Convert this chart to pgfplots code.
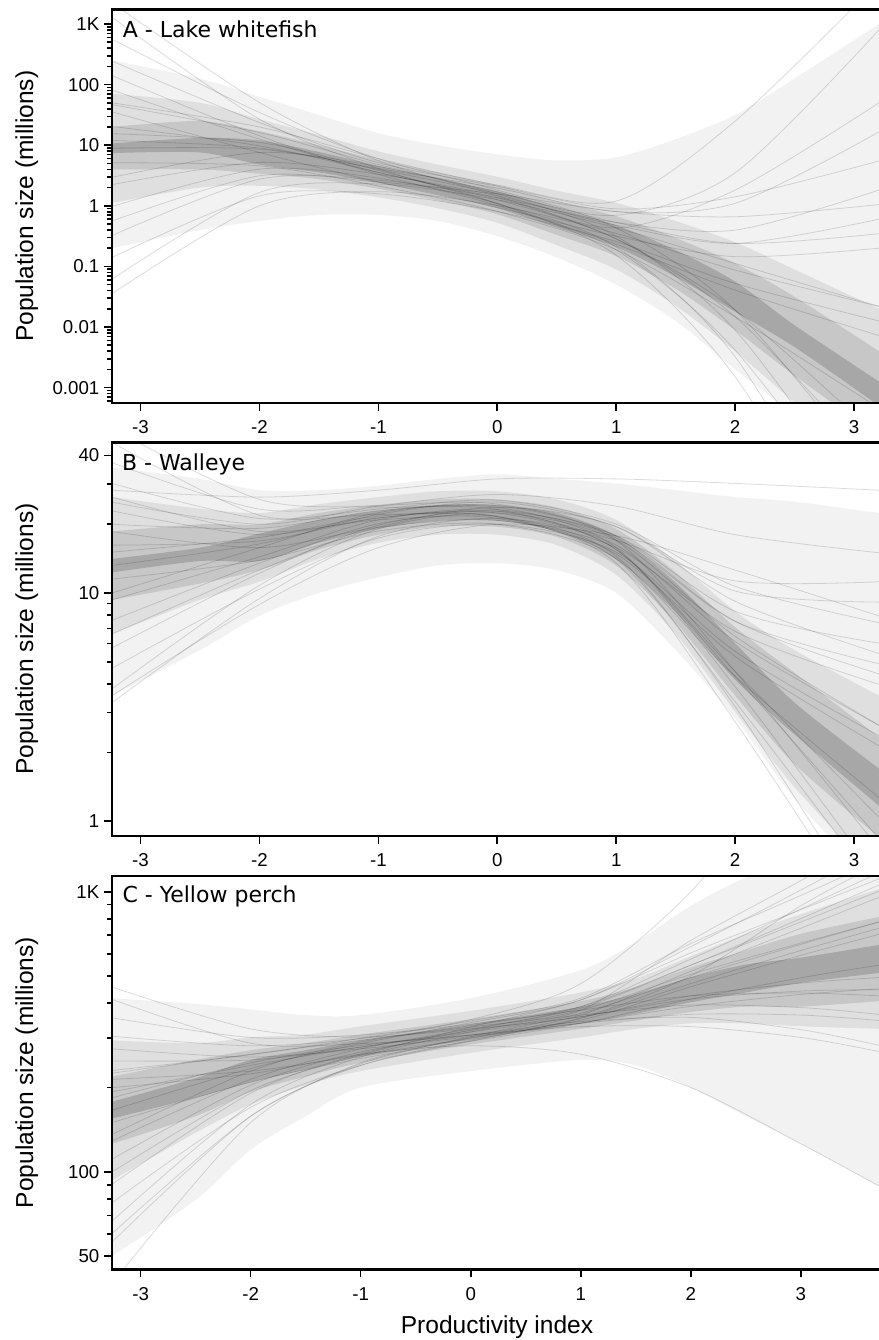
\documentclass[border=0pt]{standalone}
\usepackage{pgfplots}
\pgfplotsset{compat=1.18}
\usepgfplotslibrary{fillbetween}
\usepackage{pgfplotstable}
\usepackage{fontspec}
\setmainfont{Liberation Sans}
\newfontfamily\titlefont{DejaVu Sans}

\pgfplotsset{
  spag/.style={black, draw opacity=0.14, line width=0.6pt, smooth, forget plot},
  edge/.style={draw=none, smooth, forget plot},
  shade/.style={fill=black, fill opacity=#1, draw=none, forget plot},
}

\begin{document}
% density of the curves: four nested envelopes, u1/l1 widest ... u4/l4 core
\pgfplotstableread{
x u1 l1 u2 l2 u3 l3 u4 l4
-3.24 251 0.2 70.8 1.12 20.0 3.98 10.7 7.41
-2.5 126 0.398 50.1 2.0 25.1 3.98 13.2 7.59
-2 63.1 0.562 26.9 2.14 17.0 3.39 12.0 4.79
-1.5 31.6 0.708 14.8 1.86 10.0 2.75 7.76 3.55
-1 15.8 0.708 7.94 1.38 5.75 1.91 4.57 2.40
-0.5 10 0.562 4.79 0.912 3.55 1.23 2.82 1.55
0 7.08 0.316 3.02 0.525 2.19 0.724 1.74 0.912
0.5 5.62 0.141 1.78 0.224 1.20 0.331 0.912 0.437
1 6.31 0.0501 1.12 0.0891 0.676 0.148 0.479 0.209
1.5 12.6 0.0126 0.562 0.0224 0.295 0.0427 0.186 0.0676
2 31.6 0.002 0.251 0.00398 0.112 0.00891 0.0562 0.0178
2.5 126 0.000316 0.0891 0.000562 0.0316 0.00158 0.0107 0.00468
3.21 1000 1e-5 0.02 3.16e-5 0.00398 0.000158 0.00126 0.000501
}\bandA
\pgfplotstableread{
x u1 l1 u2 l2 u3 l3 u4 l4
-3.24 35.5 3.55 26.3 6.61 18.6 9.33 14.1 12.3
-2.5 31.6 5.62 23.4 9.33 20.0 11.0 15.8 13.8
-2 28.2 7.94 22.4 11.2 20.0 12.6 18.2 13.8
-1.5 28.2 10 24.5 14.1 22.4 15.5 20.9 16.6
-1 29.5 11.7 26.3 16.6 24.3 18.0 22.9 19.1
-0.5 31.6 13.2 27.9 18.0 25.7 19.5 24.3 20.7
0 33.1 13.5 27.9 18.0 25.7 19.5 24.3 20.7
0.5 31.6 12.6 25.7 16.2 23.7 17.6 22.4 18.6
1 30.2 10 20.9 12.0 19.1 13.2 17.8 14.1
1.5 28.2 5.62 13.8 6.61 12.3 7.41 11.1 8.22
2 26.3 2.82 8.32 3.02 7.08 3.55 6.03 4.17
2.5 25.1 1.26 5.62 1.41 4.47 1.78 3.31 2.40
3.21 22.4 0.5 3.55 0.562 2.34 0.851 1.70 1.17
}\bandB
\pgfplotstableread{
x u1 l1 u2 l2 u3 l3 u4 l4
-3.26 417 50.1 295 93.3 219 126 178 155
-2.5 398 79.4 288 138 251 158 216 184
-2 380 120 302 174 272 193 251 209
-1.5 363 158 309 204 288 219 272 232
-1 363 200 331 229 309 245 295 257
0 417 229 376 266 351 285 337 296
1 525 251 437 302 407 324 389 339
1.5 661 240 490 324 457 347 432 367
2 891 200 589 339 537 372 495 403
2.5 1122 158 708 339 617 389 550 437
3 1259 126 832 331 708 389 582 473
3.71 1259 89.1 1023 324 813 407 646 513
}\bandC

\begin{tikzpicture}

% ---------- A ----------
\begin{axis}[ymode=log, scale only axis, width=575.25pt, height=295pt,
  at={(84pt,-7.1pt)}, anchor=north west,
  axis line style={draw=none}, clip mode=individual,
  tick align=outside, xtick pos=left, ytick pos=left,
  major tick length=6pt, minor tick length=3.5pt,
  tick style={black, line width=1.2pt},
  tick label style={font=\fontsize{14}{16}\selectfont},
  xticklabel style={yshift=-4pt},
  xtick={-3,-2,-1,0,1,2,3}, xticklabels={-3,-2,-1,0,1,2,3},
  xmin=-3.24, xmax=3.21, ymin=0.000562, ymax=1738,
  ytick={0.001,0.01,0.1,1,10,100,1000},
  yticklabels={0.001,0.01,0.1,1,10,100,1K},
  minor ytick={0.0006,0.0007,0.0008,0.0009,0.002,0.003,0.004,0.005,0.006,0.007,0.008,0.009,0.02,0.03,0.04,0.05,0.06,0.07,0.08,0.09,0.2,0.3,0.4,0.5,0.6,0.7,0.8,0.9,2,3,4,5,6,7,8,9,20,30,40,50,60,70,80,90,200,300,400,500,600,700,800,900}]
\addplot[edge, name path=au1] table[x=x,y=u1]{\bandA};
\addplot[edge, name path=al1] table[x=x,y=l1]{\bandA};
\addplot[edge, name path=au2] table[x=x,y=u2]{\bandA};
\addplot[edge, name path=al2] table[x=x,y=l2]{\bandA};
\addplot[edge, name path=au3] table[x=x,y=u3]{\bandA};
\addplot[edge, name path=al3] table[x=x,y=l3]{\bandA};
\addplot[edge, name path=au4] table[x=x,y=u4]{\bandA};
\addplot[edge, name path=al4] table[x=x,y=l4]{\bandA};
\addplot[shade=0.05] fill between[of=au1 and al1];
\addplot[shade=0.08] fill between[of=au2 and al2];
\addplot[shade=0.11] fill between[of=au3 and al3];
\addplot[shade=0.16] fill between[of=au4 and al4];
\addplot[spag] coordinates {(-3.24,562) (-2,34.7) (-1,5.97) (0,1.82) (1,0.432) (2,0.0191) (3.21,2.88e-5)};
\addplot[spag] coordinates {(-3.24,0.324) (-2,2.75) (-1,2.65) (0,1.36) (1,0.531) (2,0.398) (3.21,1.82)};
\addplot[spag] coordinates {(-3.24,20.4) (-2,9.77) (-1,3.56) (0,1.26) (1,0.285) (2,0.0148) (3.21,5e-5)};
\addplot[spag] coordinates {(-3.24,2.24) (-2,5.19) (-1,3.31) (0,1.46) (1,0.479) (2,0.24) (3.21,0.603)};
\addplot[spag] coordinates {(-3.24,141) (-2,14.3) (-1,3.31) (0,1.01) (1,0.188) (2,0.00417) (3.21,3.16e-6)};
\addplot[spag] coordinates {(-3.24,0.0617) (-2,1.66) (-1,2.29) (0,1.26) (1,0.432) (2,0.112) (3.21,0.0219)};
\addplot[spag] coordinates {(-3.24,46.8) (-2,16.2) (-1,4.79) (0,1.69) (1,0.531) (2,0.24) (3.21,0.347)};
\addplot[spag] coordinates {(-3.24,5.13) (-2,4.57) (-1,2.13) (0,0.809) (1,0.188) (2,0.0148) (3.21,4.57e-4)};
\addplot[spag] coordinates {(-3.24,2239) (-2,50.7) (-1,5.55) (0,1.46) (1,0.285) (2,0.0191) (3.21,1.51e-4)};
\addplot[spag] coordinates {(-3.24,8.91) (-2,8.61) (-1,4.13) (0,1.96) (1,0.804) (2,1.10) (3.21,16.6)};
\addplot[spag] coordinates {(-3.24,0.977) (-2,4.03) (-1,2.86) (0,1.09) (1,0.209) (2,0.00324) (3.21,3.47e-7)};
\addplot[spag] coordinates {(-3.24,81.3) (-2,12.6) (-1,3.56) (0,1.36) (1,0.432) (2,1.82) (3.21,50.1)};
\addplot[spag] coordinates {(-3.24,0.141) (-2,1.46) (-1,1.58) (0,0.809) (1,0.257) (2,0.0525) (3.21,0.0126)};
\addplot[spag] coordinates {(-3.24,15.5) (-2,11.1) (-1,3.84) (0,1.09) (1,0.153) (2,0.00151) (3.21,2e-7)};
\addplot[spag] coordinates {(-3.24,245) (-2,23.7) (-1,5.15) (0,2.11) (1,0.891) (2,1.41) (3.21,5.5)};
\addplot[spag] coordinates {(-3.24,2.95) (-2,7.59) (-1,4.45) (0,1.57) (1,0.316) (2,0.00891) (3.21,5.5e-6)};
\addplot[spag] coordinates {(-3.24,35.5) (-2,7.59) (-1,2.47) (0,0.938) (1,0.316) (2,0.145) (3.21,0.2)};
\addplot[spag] coordinates {(-3.24,0.562) (-2,3.13) (-1,2.47) (0,1.57) (1,0.804) (2,0.661) (3.21,1.05)};
\addplot[spag] coordinates {(-3.24,1288) (-2,26.9) (-1,4.13) (0,1.09) (1,0.232) (2,0.0407) (3.21,0.00724)};
\addplot[spag] coordinates {(-3.24,0.0355) (-2,1.0) (-1,1.71) (0,1.01) (1,0.351) (2,0.0871) (3.21,0.0219)};
\addplot[spag] coordinates {(-3.24,12) (-2,9) (-1,4) (0,1.6) (1,0.7) (2,3.5) (3.21,800)};
\addplot[spag] coordinates {(-3.24,50) (-2,20) (-1,6) (0,2.2) (1,1.2) (2,25) (3.21,5000)};
\draw[line width=1.8pt] (rel axis cs:1.01,1) -- (rel axis cs:0,1) -- (rel axis cs:0,0) -- (rel axis cs:1.01,0);
\end{axis}

% ---------- B ----------
\begin{axis}[ymode=log, scale only axis, width=575.25pt, height=295pt,
  at={(84pt,-331.9pt)}, anchor=north west,
  axis line style={draw=none}, clip mode=individual,
  tick align=outside, xtick pos=left, ytick pos=left,
  major tick length=6pt, minor tick length=3.5pt,
  tick style={black, line width=1.2pt},
  tick label style={font=\fontsize{14}{16}\selectfont},
  xticklabel style={yshift=-4pt},
  xtick={-3,-2,-1,0,1,2,3}, xticklabels={-3,-2,-1,0,1,2,3},
  xmin=-3.24, xmax=3.21, ymin=0.863, ymax=45.6,
  ytick={1,10,40}, yticklabels={1,10,40},
  minor ytick={2,3,4,5,6,7,8,9,20,30}]
\addplot[edge, name path=bu1] table[x=x,y=u1]{\bandB};
\addplot[edge, name path=bl1] table[x=x,y=l1]{\bandB};
\addplot[edge, name path=bu2] table[x=x,y=u2]{\bandB};
\addplot[edge, name path=bl2] table[x=x,y=l2]{\bandB};
\addplot[edge, name path=bu3] table[x=x,y=u3]{\bandB};
\addplot[edge, name path=bl3] table[x=x,y=l3]{\bandB};
\addplot[edge, name path=bu4] table[x=x,y=u4]{\bandB};
\addplot[edge, name path=bl4] table[x=x,y=l4]{\bandB};
\addplot[shade=0.05] fill between[of=bu1 and bl1];
\addplot[shade=0.08] fill between[of=bu2 and bl2];
\addplot[shade=0.11] fill between[of=bu3 and bl3];
\addplot[shade=0.16] fill between[of=bu4 and bl4];
\addplot[spag] coordinates {(-3.24,37.2) (-2,23.3) (-1,24.2) (0,24.5) (1,17.0) (2,4.53) (3.21,0.759)};
\addplot[spag] coordinates {(-3.24,5.75) (-2,12.2) (-1,19.8) (0,22.8) (1,17.8) (2,8.32) (3.21,6.03)};
\addplot[spag] coordinates {(-3.24,16.2) (-2,16.9) (-1,21.3) (0,22.4) (1,15.5) (2,4.31) (3.21,0.841)};
\addplot[spag] coordinates {(-3.24,9.33) (-2,14.4) (-1,20.9) (0,23.2) (1,17.4) (2,7.52) (3.21,4.9)};
\addplot[spag] coordinates {(-3.24,26.3) (-2,18.6) (-1,20.9) (0,21.2) (1,14.1) (2,3.34) (3.21,0.501)};
\addplot[spag] coordinates {(-3.24,3.8) (-2,10.8) (-1,19.1) (0,22.4) (1,17.0) (2,6.46) (3.21,2.63)};
\addplot[spag] coordinates {(-3.24,20.0) (-2,19.2) (-1,22.9) (0,24.1) (1,17.8) (2,7.52) (3.21,4.42)};
\addplot[spag] coordinates {(-3.24,11.5) (-2,13.9) (-1,18.7) (0,20.0) (1,14.1) (2,4.31) (3.21,1.27)};
\addplot[spag] coordinates {(-3.24,52.5) (-2,25.7) (-1,23.8) (0,23.2) (1,15.5) (2,4.53) (3.21,1.04)};
\addplot[spag] coordinates {(-3.24,13.2) (-2,16.4) (-1,22.1) (0,25.0) (1,19.5) (2,10.2) (3.21,9.12)};
\addplot[spag] coordinates {(-3.24,7.59) (-2,13.5) (-1,20.1) (0,21.6) (1,14.5) (2,3.18) (3.21,0.331)};
\addplot[spag] coordinates {(-3.24,22.9) (-2,18.0) (-1,21.3) (0,22.8) (1,17.0) (2,11.3) (3.21,11.2)};
\addplot[spag] coordinates {(-3.24,4.68) (-2,10.4) (-1,17.4) (0,20.0) (1,15.1) (2,5.55) (3.21,2.37)};
\addplot[spag] coordinates {(-3.24,15.1) (-2,17.5) (-1,21.7) (0,21.6) (1,13.5) (2,2.73) (3.21,0.299)};
\addplot[spag] coordinates {(-3.24,30.2) (-2,21.2) (-1,23.3) (0,25.5) (1,20.0) (2,10.7) (3.21,7.41)};
\addplot[spag] coordinates {(-3.24,10.0) (-2,15.8) (-1,22.5) (0,23.7) (1,15.8) (2,3.89) (3.21,0.556)};
\addplot[spag] coordinates {(-3.24,18.6) (-2,15.8) (-1,19.4) (0,20.8) (1,15.8) (2,6.79) (3.21,3.98)};
\addplot[spag] coordinates {(-3.24,6.61) (-2,12.6) (-1,19.4) (0,23.7) (1,19.5) (2,9.2) (3.21,5.43)};
\addplot[spag] coordinates {(-3.24,45.7) (-2,21.9) (-1,22.1) (0,21.6) (1,14.8) (2,5.27) (3.21,2.14)};
\addplot[spag] coordinates {(-3.24,3.31) (-2,9.46) (-1,17.7) (0,21.2) (1,16.2) (2,6.14) (3.21,2.63)};
\addplot[spag] coordinates {(-3.24,28.2) (-2,26.3) (-1,28.2) (0,31.6) (1,31.6) (2,30.2) (3.21,28.2)};
\addplot[spag] coordinates {(-3.24,3.55) (-2,8.91) (-1,15.8) (0,20.0) (1,17.8) (2,12.6) (3.21,7.94)};
\addplot[spag] coordinates {(-3.24,25) (-2,20) (-1,24) (0,27) (1,24) (2,18) (3.21,15)};
\draw[line width=1.8pt] (rel axis cs:1.01,1) -- (rel axis cs:0,1) -- (rel axis cs:0,0) -- (rel axis cs:1.01,0);
\end{axis}

% ---------- C ----------
\begin{axis}[ymode=log, scale only axis, width=575.25pt, height=295pt,
  at={(84pt,-657pt)}, anchor=north west,
  axis line style={draw=none}, clip mode=individual,
  tick align=outside, xtick pos=left, ytick pos=left,
  major tick length=6pt, minor tick length=3.5pt,
  tick style={black, line width=1.2pt},
  tick label style={font=\fontsize{14}{16}\selectfont},
  xticklabel style={yshift=-4pt},
  xtick={-3,-2,-1,0,1,2,3}, xticklabels={-3,-2,-1,0,1,2,3},
  xmin=-3.26, xmax=3.71, ymin=44.9, ymax=1138,
  ytick={50,100,1000}, yticklabels={50,100,1K},
  minor ytick={60,70,80,90,200,300,400,500,600,700,800,900}]
\addplot[edge, name path=cu1] table[x=x,y=u1]{\bandC};
\addplot[edge, name path=cl1] table[x=x,y=l1]{\bandC};
\addplot[edge, name path=cu2] table[x=x,y=u2]{\bandC};
\addplot[edge, name path=cl2] table[x=x,y=l2]{\bandC};
\addplot[edge, name path=cu3] table[x=x,y=u3]{\bandC};
\addplot[edge, name path=cl3] table[x=x,y=l3]{\bandC};
\addplot[edge, name path=cu4] table[x=x,y=u4]{\bandC};
\addplot[edge, name path=cl4] table[x=x,y=l4]{\bandC};
\addplot[shade=0.05] fill between[of=cu1 and cl1];
\addplot[shade=0.08] fill between[of=cu2 and cl2];
\addplot[shade=0.11] fill between[of=cu3 and cl3];
\addplot[shade=0.16] fill between[of=cu4 and cl4];
\addplot[spag] coordinates {(-3.26,355) (-2,302) (-1,308) (0,337) (1,378) (2,425) (3,435) (3.71,425)};
\addplot[spag] coordinates {(-3.26,90.4) (-2,191) (-1,264) (0,321) (1,389) (2,575) (3,867) (3.71,1170)};
\addplot[spag] coordinates {(-3.26,193) (-2,240) (-1,279) (0,316) (1,358) (2,414) (3,442) (3.71,447)};
\addplot[spag] coordinates {(-3.26,129) (-2,214) (-1,275) (0,324) (1,384) (2,547) (3,802) (3.71,1057)};
\addplot[spag] coordinates {(-3.26,275) (-2,257) (-1,275) (0,304) (1,339) (2,365) (3,363) (3.71,347)};
\addplot[spag] coordinates {(-3.26,66.7) (-2,174) (-1,257) (0,316) (1,378) (2,507) (3,656) (3.71,780)};
\addplot[spag] coordinates {(-3.26,225) (-2,263) (-1,295) (0,333) (1,389) (2,547) (3,780) (3.71,1005)};
\addplot[spag] coordinates {(-3.26,150) (-2,209) (-1,254) (0,293) (1,339) (2,414) (3,493) (3.71,547)};
\addplot[spag] coordinates {(-3.26,457) (-2,324) (-1,303) (0,324) (1,358) (2,425) (3,472) (3.71,494)};
\addplot[spag] coordinates {(-3.26,166) (-2,234) (-1,287) (0,341) (1,411) (2,637) (3,1014) (3.71,1432)};
\addplot[spag] coordinates {(-3.26,111) (-2,204) (-1,268) (0,308) (1,344) (2,356) (3,322) (3.71,283)};
\addplot[spag] coordinates {(-3.26,249) (-2,251) (-1,279) (0,320) (1,378) (2,670) (3,1096) (3.71,1585)};
\addplot[spag] coordinates {(-3.26,77.6) (-2,170) (-1,240) (0,293) (1,353) (2,470) (3,617) (3.71,741)};
\addplot[spag] coordinates {(-3.26,184) (-2,245) (-1,283) (0,308) (1,330) (2,330) (3,302) (3.71,269)};
\addplot[spag] coordinates {(-3.26,305) (-2,282) (-1,299) (0,346) (1,417) (2,653) (3,970) (3.71,1294)};
\addplot[spag] coordinates {(-3.26,136) (-2,229) (-1,291) (0,329) (1,363) (2,394) (3,386) (3.71,365)};
\addplot[spag] coordinates {(-3.26,214) (-2,229) (-1,261) (0,301) (1,363) (2,520) (3,741) (3.71,955)};
\addplot[spag] coordinates {(-3.26,100) (-2,195) (-1,261) (0,329) (1,411) (2,605) (3,863) (3.71,1112)};
\addplot[spag] coordinates {(-3.26,413) (-2,288) (-1,287) (0,308) (1,348) (2,458) (3,593) (3.71,705)};
\addplot[spag] coordinates {(-3.26,60.3) (-2,158) (-1,243) (0,304) (1,368) (2,494) (3,649) (3.71,780)};
\addplot[spag] coordinates {(-3.26,200) (-2,224) (-1,263) (0,282) (1,263) (2,200) (3,126) (3.71,89.1)};
\addplot[spag] coordinates {(-3.26,56.2) (-2,158) (-1,240) (0,295) (1,355) (2,501) (3,891) (3.71,1259)};
\addplot[spag] coordinates {(-3.26,230) (-2,262) (-1,300) (0,350) (1,470) (2,1000) (3,3000) (3.71,5000)};
\addplot[spag] coordinates {(-3.26,40) (-2,150) (-1,245) (0,300) (1,340) (2,390) (3,430) (3.71,450)};
\draw[line width=1.8pt] (rel axis cs:1.01,1) -- (rel axis cs:0,1) -- (rel axis cs:0,0) -- (rel axis cs:1.01,0);
\end{axis}

% panel titles and axis labels
\node[anchor=base west, inner sep=0pt, font=\titlefont\fontsize{16.5}{19}\selectfont] at (92pt,-28pt) {A - Lake whitefish};
\node[anchor=base west, inner sep=0pt, font=\titlefont\fontsize{16.5}{19}\selectfont] at (91.3pt,-352.5pt) {B - Walleye};
\node[anchor=base west, inner sep=0pt, font=\titlefont\fontsize{16.5}{19}\selectfont] at (91.7pt,-676.7pt) {C - Yellow perch};
\node[rotate=90, anchor=base, inner sep=0pt, font=\fontsize{18.4}{20}\selectfont] at (24.75pt,-154.7pt) {Population size (millions)};
\node[rotate=90, anchor=base, inner sep=0pt, font=\fontsize{18.4}{20}\selectfont] at (24.75pt,-479.3pt) {Population size (millions)};
\node[rotate=90, anchor=base, inner sep=0pt, font=\fontsize{18.4}{20}\selectfont] at (24.75pt,-804.4pt) {Population size (millions)};
\node[anchor=base, inner sep=0pt, font=\fontsize{18.4}{20}\selectfont] at (372.75pt,-999.75pt) {Productivity index};

\pgfresetboundingbox
\useasboundingbox (0,0) rectangle (659.25pt,-1005pt);
\end{tikzpicture}
\end{document}
